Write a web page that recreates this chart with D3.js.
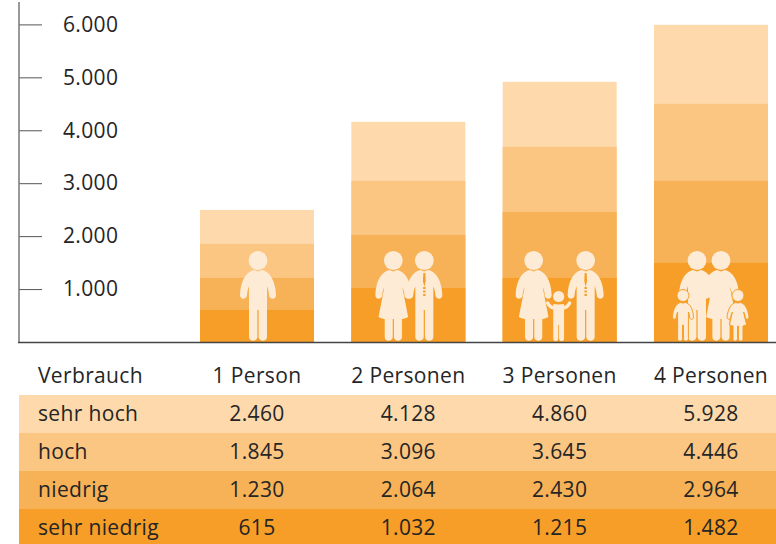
<!DOCTYPE html>
<html>
<head>
<meta charset="utf-8">
<script src="https://cdn.jsdelivr.net/npm/d3@7"></script>
<style>
html, body { margin: 0; padding: 0; background: #fff; overflow: hidden; }
svg { display: block; }
text { font-family: "Open Sans", sans-serif; font-size: 21px; fill: #252525; letter-spacing: 0.35px; }
</style>
</head>
<body>
<svg id="chart" width="776" height="544"></svg>
<script>
const width = 776;
const height = 544;

const categories = ["1 Person", "2 Personen", "3 Personen", "4 Personen"];
const levels = ["sehr hoch", "hoch", "niedrig", "sehr niedrig"];
const colors = ["#fdd9ab", "#fbc582", "#f7b257", "#f69e27"];
const yTicks = [1000, 2000, 3000, 4000, 5000, 6000];

// table values, top row first
const sehrHoch = [2460, 4128, 4860, 5928];
const hoch = [1845, 3096, 3645, 4446];
const niedrig = [1230, 2064, 2430, 2964];
const sehrNiedrig = [615, 1032, 1215, 1482];

// bar heights (they run slightly above the table)
const barSehrHoch = [2495, 4159, 4915, 5992];
const barHoch = [1853, 3043, 3686, 4499];
const barNiedrig = [1210, 2023, 2457, 3043];
const barSehrNiedrig = [605, 1020, 1210, 1493];

const tableRows = [sehrHoch, hoch, niedrig, sehrNiedrig];
const barRows = [barSehrHoch, barHoch, barNiedrig, barSehrNiedrig];

const iconFill = "#fdebd5";
const iconInk = "#f69e27";

const deDE = d3.formatLocale({decimal: ",", thousands: ".", grouping: [3], currency: ["", " €"]});
const fmt = deDE.format(",d");

const svg = d3.select("#chart").attr("viewBox", [0, 0, width, height]);

const x = d3.scaleBand()
	.domain(categories)
	.range([200, 768])
	.paddingInner(0.2466);

const y = d3.scaleLinear()
	.domain([0, 6000])
	.range([342, 24.4]);

const rowY = d3.scaleBand()
	.domain(levels)
	.range([395, 547]);

drawBars();
drawIcons();
drawAxes();
drawTable();

function drawBars(){
	//tallest band first so the lower ones paint over it
	barRows.forEach(function(row, r){
		svg.append("g")
			.selectAll("rect")
			.data(row)
			.enter()
			.append("rect")
				.attr("x", (d, i) => x(categories[i]))
				.attr("y", d => y(d))
				.attr("width", x.bandwidth())
				.attr("height", d => y(0) - y(d))
				.attr("fill", colors[r]);
	});
}

function drawAxes(){
	var yAxis = d3.axisRight(y)
		.tickValues(yTicks)
		.tickSize(23)
		.tickPadding(21)
		.tickFormat(fmt);

	var g = svg.append("g")
		.attr("transform", "translate(19,0)")
		.call(yAxis);
	g.select(".domain").remove();
	g.selectAll("line").attr("stroke", "#555").attr("stroke-width", 1);

	svg.append("line")
		.attr("x1", 19).attr("x2", 19)
		.attr("y1", 2).attr("y2", 343)
		.attr("stroke", "#777")
		.attr("stroke-width", 1.5);
	svg.append("line")
		.attr("x1", 18).attr("x2", width)
		.attr("y1", 342.5).attr("y2", 342.5)
		.attr("stroke", "#444")
		.attr("stroke-width", 1.5);
}

function drawTable(){
	svg.append("text")
		.attr("x", 38)
		.attr("y", 383)
		.text("Verbrauch");

	svg.append("g")
		.selectAll("text")
		.data(categories)
		.enter()
		.append("text")
			.attr("x", d => x(d) + x.bandwidth() / 2)
			.attr("y", 383)
			.attr("text-anchor", "middle")
			.text(d => d);

	levels.forEach(function(level, r){
		var row = svg.append("g");
		row.append("rect")
			.attr("x", 19)
			.attr("y", rowY(level))
			.attr("width", width - 19)
			.attr("height", rowY.bandwidth())
			.attr("fill", colors[r]);
		row.append("text")
			.attr("x", 38)
			.attr("y", rowY(level) + 25.5)
			.text(level);
		row.selectAll("text.value")
			.data(tableRows[r])
			.enter()
			.append("text")
				.attr("class", "value")
				.attr("x", (d, i) => x(categories[i]) + x.bandwidth() / 2)
				.attr("y", rowY(level) + 25.5)
				.attr("text-anchor", "middle")
				.text(d => fmt(d));
	});
}

//figures stand on the baseline, origin is the foot line under the head centre
function person(cx, kind, opts){
	opts = opts || {};
	var stroke = opts.outline ? iconInk : "none";
	var g = svg.append("g")
		.attr("transform", "translate(" + cx + "," + (y(0) - 1) + ")")
		.attr("fill", iconFill);

	if(kind == "man" || kind == "woman"){
		g.append("circle").attr("cy", -80.5).attr("r", 9.4);
	}
	if(kind == "man"){
		g.append("path").attr("d", "M-4,-71 L0,-69.5 L4,-71 C12,-69 17.6,-60 18,-46 C18,-41 11.5,-41 11,-46 C11,-49 10,-52 9,-55 L9,-4 C9,1 1,1 0.6,-4 L0.6,-31 L-0.6,-31 L-0.6,-4 C-1,1 -9,1 -9,-4 L-9,-55 C-10,-52 -11,-49 -11,-46 C-11.5,-41 -18,-41 -18,-46 C-17.6,-60 -12,-69 -4,-71 Z");
		if(opts.tie){
			g.append("path").attr("d", "M-1,-68 L1,-68 L1.4,-60 L0,-54 L-1.4,-60 Z").attr("fill", iconInk);
			g.selectAll("rect")
				.data([-54, -50.5, -47])
				.enter()
				.append("rect")
					.attr("x", -1.2).attr("y", d => d)
					.attr("width", 2.4).attr("height", 2)
					.attr("fill", iconInk);
		}
	}
	if(kind == "woman"){
		g.append("path").attr("d", "M-4,-71 L0,-69.5 L4,-71 C12,-69 17.6,-60 18,-46 C18,-41 11.5,-41 11,-46 C11,-49 10,-52 9,-54 L14.8,-24 C10,-22 9,-22 8.6,-22 L8.6,-4 C8.6,1 1,1 0.6,-4 L0.6,-22 L-0.6,-22 L-0.6,-4 C-1,1 -8.6,1 -8.6,-4 L-8.6,-22 C-9,-22 -10,-22 -14.8,-24 L-9,-54 C-10,-52 -11,-49 -11,-46 C-11.5,-41 -18,-41 -18,-46 C-17.6,-60 -12,-69 -4,-71 Z");
	}
	if(kind == "handsUp"){
		//child between the parents, holding both hands
		g.append("circle").attr("cy", -44.5).attr("r", 5.6);
		g.append("path").attr("d", "M-5.4,-37 L0,-36.6 L5.4,-37 L5.4,-2.5 C5.4,1 0.7,1 0.4,-2.5 L0.4,-16 L-0.4,-16 L-0.4,-2.5 C-0.7,1 -5.4,1 -5.4,-2.5 Z");
		g.append("path")
			.attr("d", "M-11,-38 C-9,-34 -7,-33 -4,-33 L4,-33 C7,-33 9,-34 11,-38")
			.attr("fill", "none")
			.attr("stroke", iconFill)
			.attr("stroke-width", 3.4)
			.attr("stroke-linecap", "round");
	}
	if(kind == "boy" || kind == "girl"){
		g.append("circle").attr("cy", -45.5).attr("r", 6)
			.attr("stroke", stroke).attr("stroke-width", 1);
		var body = kind == "boy"
			? "M-2.5,-38.5 L0,-38 L2.5,-38.5 C7,-37.5 10,-32 10.5,-24 C10.5,-21 7,-21 6.6,-24 C6.6,-26 6,-27.5 5.4,-29 L5.4,-2.5 C5.4,1 0.7,1 0.4,-2.5 L0.4,-16 L-0.4,-16 L-0.4,-2.5 C-0.7,1 -5.4,1 -5.4,-2.5 L-5.4,-29 C-6,-27.5 -6.6,-26 -6.6,-24 C-7,-21 -10.5,-21 -10.5,-24 C-10,-32 -7,-37.5 -2.5,-38.5 Z"
			: "M-2.5,-38.5 L0,-38 L2.5,-38.5 C7,-37.5 10,-32 11,-24 C11,-21 7.6,-21 7.2,-24 C7,-26 6.4,-27.5 5.6,-29 L8.6,-16 L5,-15 L5,-2.5 C5,1 0.7,1 0.4,-2.5 L0.4,-15 L-0.4,-15 L-0.4,-2.5 C-0.7,1 -5,1 -5,-2.5 L-5,-15 L-8.6,-16 L-5.6,-29 C-6.4,-27.5 -7,-26 -7.2,-24 C-7.6,-21 -11,-21 -11,-24 C-10,-32 -7,-37.5 -2.5,-38.5 Z";
		g.append("path").attr("d", body)
			.attr("stroke", stroke).attr("stroke-width", 1);
	}
}

function drawIcons(){
	var c = categories.map(d => x(d) + x.bandwidth() / 2);

	person(c[0] + 1, "man");

	person(c[1] - 15, "woman");
	person(c[1] + 16, "man", {tie: true});

	person(c[2] - 26, "woman");
	person(c[2] + 26, "man", {tie: true});
	person(c[2] - 1, "handsUp");

	person(c[3] - 14, "man");
	person(c[3] + 10, "woman");
	person(c[3] - 28, "boy", {outline: true});
	person(c[3] + 27, "girl", {outline: true});
}
</script>
</body>
</html>
